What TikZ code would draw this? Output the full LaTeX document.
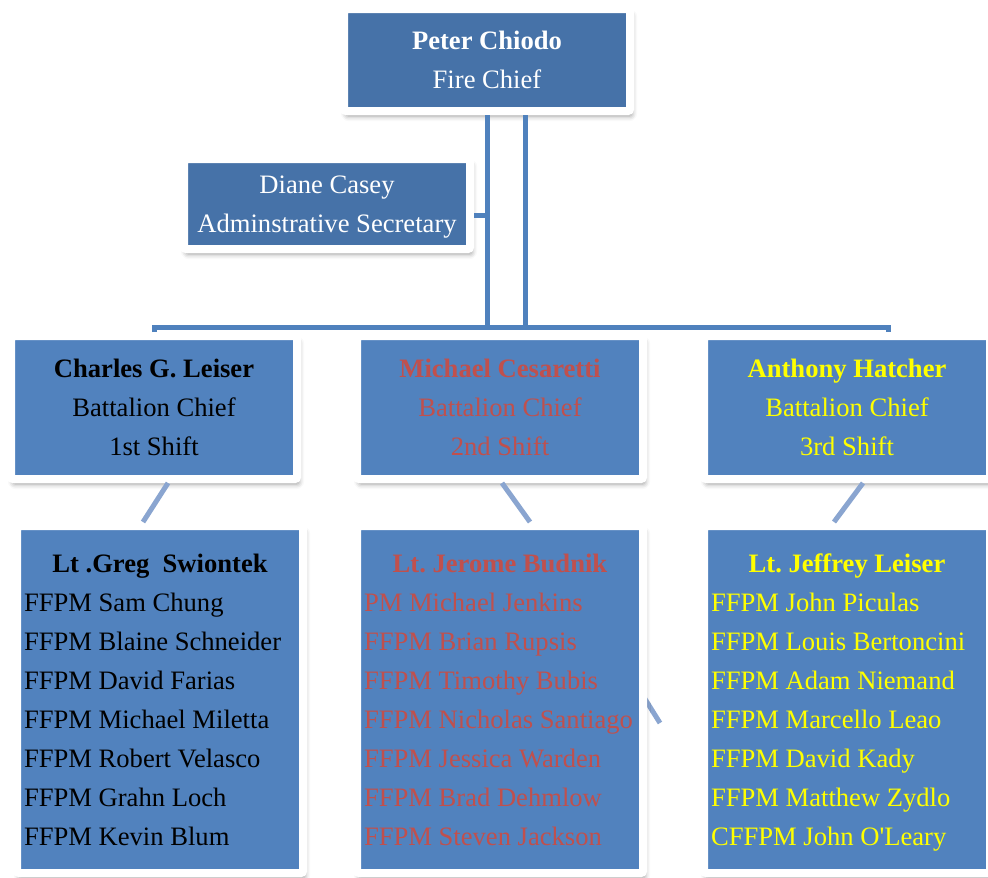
\documentclass[tikz,border=0pt]{standalone}
\usepackage{fontspec}
\setmainfont{Liberation Serif}
\usepackage{tikz}
\usepackage{xcolor}
\usetikzlibrary{shadows.blur}

\definecolor{chiefblue}{RGB}{70,114,168}
\definecolor{crewblue}{RGB}{81,130,190}
\definecolor{linkblue}{RGB}{79,129,189}
\definecolor{stemblue}{RGB}{138,165,208}
\definecolor{shiftred}{RGB}{192,80,77}
\definecolor{shiftyellow}{RGB}{255,255,0}

\frenchspacing
\newcommand{\crewhead}[1]{\makebox[272pt]{\textbf{#1}}}

\tikzset{
  orgbox/.style={draw=white, line width=8pt, rounded corners=2pt, inner sep=0pt,
    minimum width=286pt, align=center, font=\fontsize{26.6}{39}\selectfont,
    text depth=0pt,
    blur shadow={shadow xshift=2pt, shadow yshift=-5pt, shadow blur radius=5pt, shadow opacity=40}},
  chiefbox/.style={orgbox, fill=chiefblue, text=white},
  shiftbox/.style={orgbox, fill=crewblue, minimum height=143pt},
  crewbox/.style={orgbox, fill=crewblue, minimum height=347pt, align=left},
  link/.style={linkblue, line width=5pt},
  stem/.style={stemblue, line width=5pt}
}

\begin{document}
\begin{tikzpicture}[x=1pt,y=-1pt]
\useasboundingbox (0,0) rectangle (988,878);

% piece of a line running behind the middle crew
\coordinate (strayA) at (630,675);
\coordinate (strayB) at (660,723);
\draw[stem] (strayA) -- (strayB);

\node[chiefbox, minimum height=102pt] (chief) at (487,60) {\textbf{Peter Chiodo}\\Fire Chief};
\node[chiefbox, minimum height=90pt] (secretary) at (327,204) {Diane Casey\\Adminstrative Secretary};

\node[shiftbox, text=black] (bc1) at (154,407.5) {\textbf{Charles G. Leiser}\\Battalion Chief\\1st Shift};
\node[shiftbox, text=shiftred] (bc2) at (500,407.5) {\textbf{Michael Cesaretti}\\Battalion Chief\\2nd Shift};
\node[shiftbox, text=shiftyellow] (bc3) at (847,407.5) {\textbf{Anthony Hatcher}\\Battalion Chief\\3rd Shift};

\node[crewbox, text=black] (lt1) at (160,699.5) {\crewhead{Lt .Greg\ \ Swiontek}\\
FFPM Sam Chung\\FFPM Blaine Schneider\\FFPM David Farias\\FFPM Michael Miletta\\
FFPM Robert Velasco\\FFPM Grahn Loch\\FFPM Kevin Blum};
\node[crewbox, text=shiftred] (lt2) at (500,699.5) {\crewhead{Lt. Jerome Budnik}\\
PM Michael Jenkins\\FFPM Brian Rupsis\\FFPM Timothy Bubis\\FFPM Nicholas Santiago\\
FFPM Jessica Warden\\FFPM Brad Dehmlow\\FFPM Steven Jackson};
\node[crewbox, text=shiftyellow] (lt3) at (847,699.5) {\crewhead{Lt. Jeffrey Leiser}\\
FFPM John Piculas\\FFPM Louis Bertoncini\\FFPM Adam Niemand\\FFPM Marcello Leao\\
FFPM David Kady\\FFPM Matthew Zydlo\\CFFPM John O\textquotesingle Leary};

% connectors
\coordinate (barR) at (888,327);
\coordinate (tap) at (488,215);
\draw[link] (chief.south) -- (chief.south |- barR);
\draw[link] ([xshift=38pt]chief.south) -- ([xshift=38pt]chief.south |- barR);
\draw[link] (secretary.east |- tap) -- (tap);
\draw[link] (bc1.north) |- (barR) -- (barR |- bc3.north);

\draw[stem] ([xshift=14pt]bc1.south) -- ([xshift=-17pt]lt1.north);
\draw[stem] ([xshift=2pt]bc2.south) -- ([xshift=30pt]lt2.north);
\draw[stem] ([xshift=16pt]bc3.south) -- ([xshift=-13pt]lt3.north);

\end{tikzpicture}
\end{document}
